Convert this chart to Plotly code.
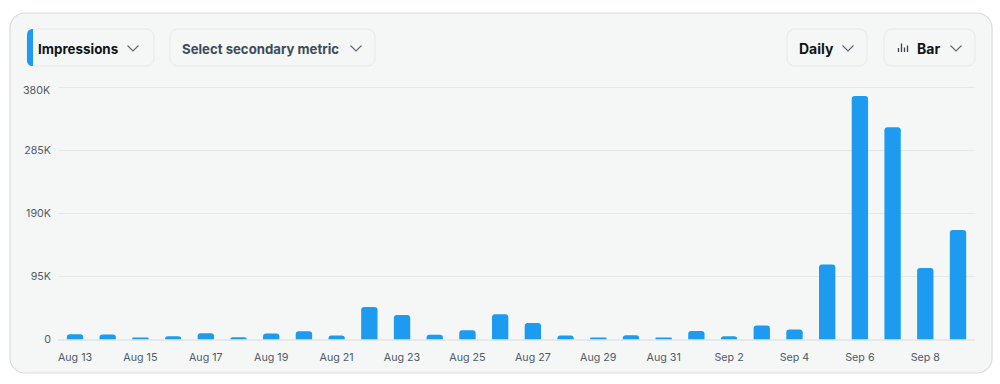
import plotly.graph_objects as go

dates = ["Aug 13","Aug 14","Aug 15","Aug 16","Aug 17","Aug 18","Aug 19","Aug 20","Aug 21","Aug 22",
         "Aug 23","Aug 24","Aug 25","Aug 26","Aug 27","Aug 28","Aug 29","Aug 30","Aug 31","Sep 1",
         "Sep 2","Sep 3","Sep 4","Sep 5","Sep 6","Sep 7","Sep 8","Sep 9"]
impressions = [8000,7500,2000,5000,9500,3500,9000,12500,6000,49000,
               37000,7000,14000,38000,25000,6000,2000,6500,2000,13000,
               5000,21000,15000,113000,367000,320000,108000,165000]
x_ticks = ["Aug 13","Aug 15","Aug 17","Aug 19","Aug 21","Aug 23","Aug 25","Aug 27","Aug 29","Aug 31",
           "Sep 2","Sep 4","Sep 6","Sep 8"]
y_ticks = [0,95000,190000,285000,380000]
y_labels = ["0","95K","190K","285K",""]
top_label = "380K"
top_value = 380000

W, H = 1000, 384
FONT = "Inter, 'Liberation Sans', sans-serif"
BLUE = "#1d9bf0"
TICK_COLOR = "#4f5b67"
GRID = "#e6e9e9"

def X(v): return v / W
def Y(v): return 1 - v / H

def rrect(x0, y0, x1, y1, r):
    k = r * 0.45
    return (f"M{X(x0+r)},{Y(y0)} L{X(x1-r)},{Y(y0)} "
            f"C{X(x1-k)},{Y(y0)} {X(x1)},{Y(y0+k)} {X(x1)},{Y(y0+r)} "
            f"L{X(x1)},{Y(y1-r)} C{X(x1)},{Y(y1-k)} {X(x1-k)},{Y(y1)} {X(x1-r)},{Y(y1)} "
            f"L{X(x0+r)},{Y(y1)} C{X(x0+k)},{Y(y1)} {X(x0)},{Y(y1-k)} {X(x0)},{Y(y1-r)} "
            f"L{X(x0)},{Y(y0+r)} C{X(x0)},{Y(y0+k)} {X(x0+k)},{Y(y0)} {X(x0+r)},{Y(y0)} Z")

def box(x0, y0, x1, y1, r, fill, line, lw=1):
    return dict(type="path", xref="paper", yref="paper", path=rrect(x0, y0, x1, y1, r),
                fillcolor=fill, line=dict(color=line, width=lw), layer="below")

def chevron(cx, cy, color="#5b6672"):
    return dict(type="path", xref="paper", yref="paper",
                path=f"M{X(cx-5.5)},{Y(cy-2.5)} L{X(cx)},{Y(cy+3)} L{X(cx+5.5)},{Y(cy-2.5)}",
                line=dict(color=color, width=1.1), layer="above")

def tick(x, y0, y1):
    return dict(type="line", xref="paper", yref="paper", x0=X(x), x1=X(x), y0=Y(y0), y1=Y(y1),
                line=dict(color="#3a4450", width=1.3), layer="above")

shapes = [
    box(10, 13, 992, 373, 15, "#f5f7f7", "#d9dcdc", 1.2),
    box(27, 29, 154, 66, 8, "#f5f7f7", "#e7e9e9"),
    box(170, 29, 375, 66, 8, "#f5f7f7", "#e7e9e9"),
    box(787, 29, 867, 66, 8, "#f5f7f7", "#e7e9e9"),
    box(884, 29, 975, 66, 8, "#f5f7f7", "#e7e9e9"),
    dict(type="path", xref="paper", yref="paper",
         path=f"M{X(33)},{Y(29)} L{X(33)},{Y(66)} C{X(29)},{Y(66)} {X(27)},{Y(64)} {X(27)},{Y(60)} "
              f"L{X(27)},{Y(35)} C{X(27)},{Y(31)} {X(29)},{Y(29)} {X(33)},{Y(29)} Z",
         fillcolor=BLUE, line=dict(width=0), layer="above"),
    chevron(133, 48), chevron(356, 48), chevron(848, 48), chevron(956, 48),
    tick(898.5, 48, 52), tick(901.5, 43.5, 52), tick(904.5, 47.5, 52), tick(907.5, 45.5, 52),
    dict(type="line", xref="x domain", yref="y", x0=0, x1=1, y0=top_value, y1=top_value,
         line=dict(color=GRID, width=1), layer="below"),
]

def label(x, text, color, size=14.5, weight=700):
    return dict(xref="paper", yref="paper", x=X(x), y=Y(48.5), text=text, showarrow=False,
                xanchor="left", yanchor="middle",
                font=dict(family=FONT, size=size, color=color, weight=weight))

annotations = [
    label(35.5, "Impressions", "#0f1419", 13.4),
    label(180, "Select secondary metric", "#3d4b5c", 13.2),
    label(796.5, "Daily", "#0f1419", 14),
    label(914.5, "Bar", "#0f1419", 14),
    dict(xref="paper", yref="paper", x=X(52), y=Y(90), text=top_label, showarrow=False,
         xanchor="right", yanchor="middle", font=dict(family=FONT, size=10.7, color=TICK_COLOR)),
]

fig = go.Figure(go.Bar(x=dates, y=impressions, marker=dict(color=BLUE, line=dict(width=0)),
                       hoverinfo="skip"))
fig.update_layout(
    width=W, height=H, margin=dict(l=0, r=0, t=0, b=0, autoexpand=False),
    paper_bgcolor="white", plot_bgcolor="rgba(0,0,0,0)",
    bargap=0.5, barcornerradius=3, showlegend=False,
    shapes=shapes, annotations=annotations,
    font=dict(family=FONT, size=10.7, color=TICK_COLOR),
)
fig.update_xaxes(domain=[X(58), X(975)], type="category", categoryorder="array", categoryarray=dates,
                 range=[-0.52, 27.52], tickmode="array", tickvals=x_ticks, ticktext=x_ticks,
                 showgrid=False, showline=False, zeroline=False, ticks="", ticklabelstandoff=10, tickangle=0)
fig.update_yaxes(domain=[Y(339.5), Y(86.5)], range=[0, 381500], tickmode="array",
                 tickvals=y_ticks, ticktext=y_labels, gridcolor=GRID, gridwidth=1,
                 zeroline=True, zerolinecolor=GRID, showline=False, ticks="", ticklabelstandoff=6)

fig.write_html("out.html", config=dict(displayModeBar=False),
               post_script="document.body.style.margin='0';document.body.style.overflow='hidden';")
